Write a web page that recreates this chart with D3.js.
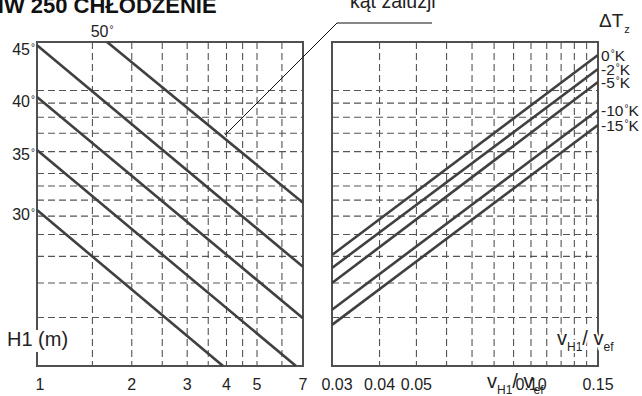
<!DOCTYPE html>
<html>
<head>
<meta charset="utf-8">
<script src="https://cdn.jsdelivr.net/npm/d3@7"></script>
<style>
  body{margin:0;background:#fff;}
  svg{display:block;font-family:"Liberation Sans",Arial,sans-serif;}
</style>
</head>
<body>
<div id="chart"></div>
<script>
// nomogram: louver angle (left) and temperature difference (right)

let W = 642, H = 396;

// left panel: H1 (m) on x, shared log scale on y
let hTicks = [1, 2, 3, 4, 5, 7];
let hGrid = [1.5, 2, 2.5, 3, 3.5, 4, 4.5, 5, 6];
let angles = [50, 45, 40, 35, 30];
let angleFrom = [[1.67, 15], [1, 14.6], [1, 9.47], [1, 6.08], [1, 3.68]];
let angleTo = [[7, 3.91], [7, 2.29], [7, 1.49], [6.65, 1], [3.9, 1]];

// right panel: vH1/vef on x
let vTicks = [0.03, 0.04, 0.05, 0.10, 0.15];
let vTickText = ["0.03", "0.04", "0.05", "0.10", "0.15"];
let vGrid = [0.04, 0.05, 0.06, 0.07, 0.08, 0.09, 0.10, 0.11, 0.12, 0.13, 0.14];
let dTz = ["0", "-2", "-5", "-10", "-15"];
let dTzFrom = [2.53, 2.27, 2.0, 1.6, 1.41];   // at vH1/vef = 0.03
let dTzTo = [13.45, 11.97, 10.74, 8.5, 7.5];   // at vH1/vef = 0.15

let yGrid = [1.5, 2, 2.5, 3, 3.5, 4, 4.5, 5, 6, 7, 8, 9, 10];

let y = d3.scaleLog().domain([1, 15]).range([366, 42]);
let xL = d3.scaleLog().domain([1, 7]).range([37, 303]);
let xR = d3.scaleLog().domain([0.03, 0.15]).range([332, 598]);

let svg = d3.select("#chart").append("svg").attr("width", W).attr("height", H);

let gridColor = "#555", lineColor = "#404040";

let drawPanel = (x, vlines) => {
  let g = svg.append("g");
  let [x0, x1] = x.range();
  g.selectAll(".hg").data(yGrid).enter().append("line")
    .attr("x1", x0).attr("x2", x1)
    .attr("y1", d => y(d)).attr("y2", d => y(d))
    .attr("stroke", gridColor).attr("stroke-width", 1.1).attr("stroke-dasharray", "7,4");
  g.selectAll(".vg").data(vlines).enter().append("line")
    .attr("x1", d => x(d)).attr("x2", d => x(d))
    .attr("y1", y.range()[1]).attr("y2", y.range()[0])
    .attr("stroke", gridColor).attr("stroke-width", 1.1).attr("stroke-dasharray", "7,4");
  g.append("rect")
    .attr("x", x0).attr("y", y.range()[1])
    .attr("width", x1 - x0).attr("height", y.range()[0] - y.range()[1])
    .attr("fill", "none").attr("stroke", "#505050").attr("stroke-width", 2);
  return g;
}

let gl = drawPanel(xL, hGrid);
let gr = drawPanel(xR, vGrid);

// angle lines
gl.selectAll(".ang").data(angles).enter().append("line")
  .attr("x1", (d, i) => xL(angleFrom[i][0])).attr("y1", (d, i) => y(angleFrom[i][1]))
  .attr("x2", (d, i) => xL(angleTo[i][0])).attr("y2", (d, i) => y(angleTo[i][1]))
  .attr("stroke", lineColor).attr("stroke-width", 2.6);

// temperature lines
gr.selectAll(".dt").data(dTz).enter().append("line")
  .attr("x1", xR(0.03)).attr("y1", (d, i) => y(dTzFrom[i]))
  .attr("x2", xR(0.15)).attr("y2", (d, i) => y(dTzTo[i]))
  .attr("stroke", lineColor).attr("stroke-width", 2.6);

let txt = (x, yy, s, size, anchor = "start") => svg.append("text")
  .attr("x", x).attr("y", yy).attr("font-size", size).attr("text-anchor", anchor)
  .attr("fill", "#222").text(s);

// small raised degree sign
let deg = (t, after) => {
  t.append("tspan").attr("font-size", 10).attr("dy", -4).attr("dx", 1).text("°");
  if (after) t.append("tspan").attr("dy", 4).text(after);
  return t;
}

// angle labels
angles.forEach((a, i) => {
  if (angleFrom[i][0] === 1) deg(txt(35, y(angleFrom[i][1]) + 9.5, a, 16, "end"));
  else deg(txt(xL(angleFrom[i][0]) - 5, 37, a, 16, "middle"));
});

// dTz labels
dTz.forEach((d, i) => {
  deg(txt(601, y(dTzTo[i]) + 6, d, 15.5), "K");
});

// tick labels
hTicks.forEach(d => txt(xL(d) + (d === 1 ? 3 : 0), 390, d, 16, "middle"));
vTicks.forEach((d, i) => txt(xR(d) + (i === 0 ? 5 : 0), 390, vTickText[i], 16, "middle"));

// title
txt(-12, 13, "NW 250  CHŁODZENIE", 22).attr("font-weight", "bold").attr("fill", "#111");

// louver angle callout
txt(350, 8, "kąt żaluzji", 19.5);
let tip = [xL(3.96), y(15 * Math.pow(3.91 / 15, Math.log(3.96 / 1.67) / Math.log(7 / 1.67)))];
svg.append("polyline")
  .attr("points", [[tip[0], tip[1] - 4], [337, 23], [432, 23]].map(p => p.join(",")).join(" "))
  .attr("fill", "none").attr("stroke", "#111").attr("stroke-width", 1);

// ΔTz
let dt = txt(599, 27, "ΔT", 19);
dt.append("tspan").attr("font-size", 11).attr("dy", 6).attr("dx", 1).text("z");

// H1 (m)
svg.append("rect").attr("x", 5).attr("y", 330).attr("width", 68).attr("height", 22).attr("fill", "#fff");
txt(7, 346, "H1 (m)", 20);

let ratioLabel = (x, yy) => {
  let t = txt(x, yy, "v", 20);
  t.append("tspan").attr("font-size", 12).attr("dy", 6).text("H1");
  t.append("tspan").attr("font-size", 20).attr("dy", -6).text("/ v");
  t.append("tspan").attr("font-size", 12).attr("dy", 6).text("ef");
  return t;
}
ratioLabel(557, 345).attr("stroke", "#fff").attr("stroke-width", 4).attr("paint-order", "stroke");
ratioLabel(487, 388);
</script>
</body>
</html>
